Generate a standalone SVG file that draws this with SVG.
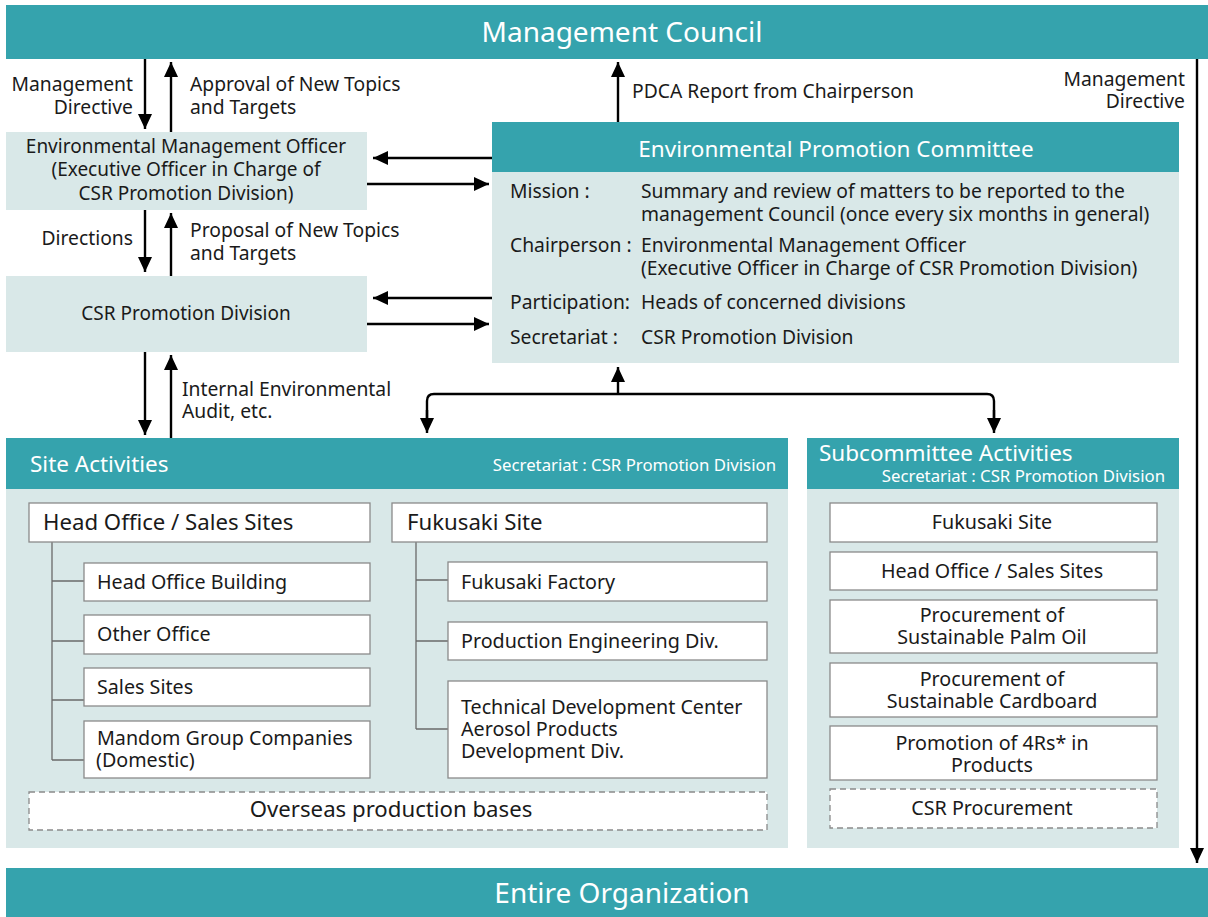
<svg xmlns="http://www.w3.org/2000/svg" width="1208" height="917" viewBox="0 0 1208 917">
  <style>
    text { font-family: "Noto Sans", "Open Sans", sans-serif; fill: #1a1a1a; }
    .band { fill: #35a3ad; }
    .pale { fill: #d9e8e8; }
    .box { fill: #ffffff; stroke: #8a8a8a; stroke-width: 1.3; }
    .dash { fill: #ffffff; stroke: #8a8a8a; stroke-width: 1.3; stroke-dasharray: 6 4; }
    .tree { fill: none; stroke: #6a6a6a; stroke-width: 1.3; }
    .conn { fill: none; stroke: #000; stroke-width: 2.4; }
    .big { font-size: 28px; fill: #ffffff; }
    .hdr { font-size: 22.5px; fill: #ffffff; }
    .sec { font-size: 16.8px; fill: #ffffff; }
    .lbl { font-size: 19.3px; }
    .off { font-size: 19px; }
    .item { font-size: 19.7px; }
    .head { font-size: 22.2px; }
    .mid { text-anchor: middle; }
    .end { text-anchor: end; }
  </style>
  <defs>
    <marker id="arrow" markerUnits="userSpaceOnUse" markerWidth="16" markerHeight="16" viewBox="0 0 16 16" refX="15" refY="8" orient="auto">
      <path d="M0,1 L15,8 L0,15 Z" fill="#000"/>
    </marker>
  </defs>

  <!-- Management Council -->
  <g id="management-council">
    <rect class="band" x="6" y="5" width="1202" height="54"/>
    <text class="big mid" x="622" y="42">Management Council</text>
  </g>

  <!-- Entire Organization -->
  <g id="entire-organization">
    <rect class="band" x="6" y="868" width="1202" height="49"/>
    <text class="big mid" x="622" y="903">Entire Organization</text>
  </g>

  <!-- Environmental Management Officer -->
  <g id="env-officer">
    <rect class="pale" x="6" y="132" width="361" height="78"/>
    <text class="off mid" x="186" y="153">Environmental Management Officer<tspan x="186" y="176">(Executive Officer in Charge of</tspan><tspan x="186" y="200">CSR Promotion Division)</tspan></text>
  </g>

  <!-- CSR Promotion Division -->
  <g id="csr-division">
    <rect class="pale" x="6" y="276" width="361" height="76"/>
    <text class="off mid" x="186" y="320">CSR Promotion Division</text>
  </g>

  <!-- Environmental Promotion Committee -->
  <g id="committee">
    <rect class="pale" x="492" y="122" width="687" height="241"/>
    <rect class="band" x="492" y="122" width="687" height="50"/>
    <text class="hdr mid" x="836" y="157">Environmental Promotion Committee</text>
    <text class="lbl" x="510" y="198">Mission :</text>
    <text class="lbl" x="641" y="198">Summary and review of matters to be reported to the<tspan x="641" y="221">management Council (once every six months in general)</tspan></text>
    <text class="lbl" x="510" y="252">Chairperson :</text>
    <text class="lbl" x="641" y="252">Environmental Management Officer<tspan x="641" y="275">(Executive Officer in Charge of CSR Promotion Division)</tspan></text>
    <text class="lbl" x="510" y="309">Participation:</text>
    <text class="lbl" x="641" y="309">Heads of concerned divisions</text>
    <text class="lbl" x="510" y="344">Secretariat :</text>
    <text class="lbl" x="641" y="344">CSR Promotion Division</text>
  </g>

  <!-- Site Activities -->
  <g id="site-activities">
    <rect class="pale" x="6" y="438" width="782" height="410"/>
    <rect class="band" x="6" y="438" width="782" height="51"/>
    <text class="hdr" x="30" y="472">Site Activities</text>
    <text class="sec end" x="776" y="471">Secretariat : CSR Promotion Division</text>

    <g id="head-office-sales">
      <path class="tree" d="M52,542 V760 M52,581 H84 M52,641 H84 M52,700 H84 M52,760 H84"/>
      <rect class="box" x="29" y="503" width="341" height="39"/>
      <text class="head" x="43" y="530">Head Office / Sales Sites</text>
      <rect class="box" x="84" y="563" width="286" height="38"/>
      <text class="item" x="97" y="589">Head Office Building</text>
      <rect class="box" x="84" y="615" width="286" height="39"/>
      <text class="item" x="97" y="641">Other Office</text>
      <rect class="box" x="84" y="668" width="286" height="38"/>
      <text class="item" x="97" y="694">Sales Sites</text>
      <rect class="box" x="84" y="721" width="286" height="57"/>
      <text class="item" x="97" y="745">Mandom Group Companies<tspan x="96" y="767">(Domestic)</tspan></text>
    </g>

    <g id="fukusaki-site">
      <path class="tree" d="M416,542 V729 M416,580 H448 M416,641 H448 M416,729 H448"/>
      <rect class="box" x="392" y="503" width="375" height="39"/>
      <text class="head" x="407" y="530">Fukusaki Site</text>
      <rect class="box" x="448" y="562" width="319" height="39"/>
      <text class="item" x="461" y="589">Fukusaki Factory</text>
      <rect class="box" x="448" y="622" width="319" height="38"/>
      <text class="item" x="461" y="648">Production Engineering Div.</text>
      <rect class="box" x="448" y="681" width="319" height="97"/>
      <text class="item" x="461" y="714">Technical Development Center<tspan x="461" y="736">Aerosol Products</tspan><tspan x="461" y="758">Development Div.</tspan></text>
    </g>

    <g id="overseas">
      <rect class="dash" x="29" y="792" width="738" height="38"/>
      <text class="head mid" x="391" y="817">Overseas production bases</text>
    </g>
  </g>

  <!-- Subcommittee Activities -->
  <g id="subcommittee-activities">
    <rect class="pale" x="807" y="438" width="372" height="410"/>
    <rect class="band" x="807" y="438" width="372" height="51"/>
    <text class="hdr" x="819" y="461">Subcommittee Activities</text>
    <text class="sec end" x="1165" y="482">Secretariat : CSR Promotion Division</text>

    <rect class="box" x="830" y="503" width="327" height="39"/>
    <text class="item mid" x="992" y="529">Fukusaki Site</text>
    <rect class="box" x="830" y="552" width="327" height="38"/>
    <text class="item mid" x="992" y="578">Head Office / Sales Sites</text>
    <rect class="box" x="830" y="600" width="327" height="53"/>
    <text class="item mid" x="992" y="622">Procurement of<tspan x="992" y="644">Sustainable Palm Oil</tspan></text>
    <rect class="box" x="830" y="663" width="327" height="54"/>
    <text class="item mid" x="992" y="686">Procurement of<tspan x="992" y="708">Sustainable Cardboard</tspan></text>
    <rect class="box" x="830" y="726" width="327" height="54"/>
    <text class="item mid" x="992" y="750">Promotion of 4Rs* in<tspan x="992" y="772">Products</tspan></text>
    <rect class="dash" x="830" y="789" width="327" height="39"/>
    <text class="item mid" x="992" y="815">CSR Procurement</text>
  </g>

  <!-- Connector labels -->
  <g id="connector-labels">
    <text class="lbl end" x="133" y="91">Management<tspan x="133" y="114">Directive</tspan></text>
    <text class="lbl" x="190" y="91">Approval of New Topics<tspan x="190" y="114">and Targets</tspan></text>
    <text class="lbl end" x="133" y="245">Directions</text>
    <text class="lbl" x="190" y="237">Proposal of New Topics<tspan x="190" y="260">and Targets</tspan></text>
    <text class="lbl" x="182" y="396">Internal Environmental<tspan x="182" y="418">Audit, etc.</tspan></text>
    <text class="lbl" x="632" y="98">PDCA Report from Chairperson</text>
    <text class="lbl end" x="1185" y="86">Management<tspan x="1185" y="108">Directive</tspan></text>
  </g>

  <!-- Connectors -->
  <g id="connectors" class="conn">
    <line x1="145" y1="59" x2="145" y2="129" marker-end="url(#arrow)"/>
    <line x1="171" y1="132" x2="171" y2="62" marker-end="url(#arrow)"/>
    <line x1="145" y1="210" x2="145" y2="272" marker-end="url(#arrow)"/>
    <line x1="171" y1="276" x2="171" y2="213" marker-end="url(#arrow)"/>
    <line x1="145" y1="352" x2="145" y2="435" marker-end="url(#arrow)"/>
    <line x1="171" y1="438" x2="171" y2="355" marker-end="url(#arrow)"/>
    <line x1="492" y1="158" x2="373" y2="158" marker-end="url(#arrow)"/>
    <line x1="367" y1="184" x2="489" y2="184" marker-end="url(#arrow)"/>
    <line x1="492" y1="298" x2="373" y2="298" marker-end="url(#arrow)"/>
    <line x1="367" y1="324" x2="489" y2="324" marker-end="url(#arrow)"/>
    <line x1="618" y1="122" x2="618" y2="62" marker-end="url(#arrow)"/>
    <line x1="618" y1="394" x2="618" y2="367" marker-end="url(#arrow)"/>
    <path d="M427,420 V401 Q427,394 434,394 H987 Q994,394 994,401 V420"/>
    <line x1="427" y1="410" x2="427" y2="433" marker-end="url(#arrow)"/>
    <line x1="994" y1="410" x2="994" y2="433" marker-end="url(#arrow)"/>
    <line x1="1197" y1="59" x2="1197" y2="863" marker-end="url(#arrow)"/>
  </g>
</svg>
